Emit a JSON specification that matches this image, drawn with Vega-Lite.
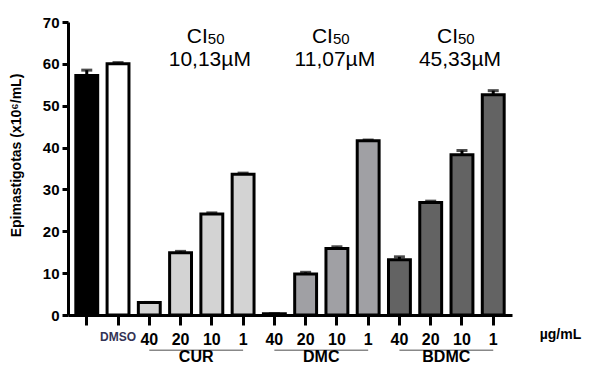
{
  "$schema": "https://vega.github.io/schema/vega-lite/v6.json",
  "width": 444,
  "height": 293,
  "autosize": {"type": "none"},
  "padding": {"left": 68, "top": 22, "right": 82, "bottom": 50},
  "background": "white",
  "config": {"font": "Liberation Sans", "view": {"stroke": null}, "axis": {"grid": false}},
  "datasets": {
    "bars": [
      {"id": "CTRL", "group": "ctrl", "value": 57.2, "hi": 58.5},
      {"id": "DMSO", "group": "DMSO", "value": 60.0, "hi": 60.3},
      {"id": "CUR40", "group": "CUR", "value": 3.0, "hi": 3.0},
      {"id": "CUR20", "group": "CUR", "value": 14.9, "hi": 15.2},
      {"id": "CUR10", "group": "CUR", "value": 24.1, "hi": 24.4},
      {"id": "CUR1", "group": "CUR", "value": 33.6, "hi": 33.9},
      {"id": "DMC40", "group": "DMC", "value": 0.3, "hi": 0.3},
      {"id": "DMC20", "group": "DMC", "value": 9.8, "hi": 10.2},
      {"id": "DMC10", "group": "DMC", "value": 15.9, "hi": 16.3},
      {"id": "DMC1", "group": "DMC", "value": 41.6, "hi": 41.8},
      {"id": "BDMC40", "group": "BDMC", "value": 13.2, "hi": 13.9},
      {"id": "BDMC20", "group": "BDMC", "value": 26.9, "hi": 27.2},
      {"id": "BDMC10", "group": "BDMC", "value": 38.3, "hi": 39.3},
      {"id": "BDMC1", "group": "BDMC", "value": 52.6, "hi": 53.6}
    ],
    "groups": [
      {"id": "CUR20", "start": "CUR40", "end": "CUR1", "name": "CUR"},
      {"id": "DMC20", "start": "DMC40", "end": "DMC1", "name": "DMC"},
      {"id": "BDMC20", "start": "BDMC40", "end": "BDMC1", "name": "BDMC"}
    ],
    "ic": [
      {"id": "CUR10", "ci": "CI", "sub": "50", "val": "10,13µM"},
      {"id": "DMC10", "ci": "CI", "sub": "50", "val": "11,07µM"},
      {"id": "BDMC10", "ci": "CI", "sub": "50", "val": "45,33µM"}
    ]
  },
  "encoding": {
    "x": {
      "field": "id",
      "type": "nominal",
      "scale": {
        "domain": ["CTRL", "DMSO", "CUR40", "CUR20", "CUR10", "CUR1", "DMC40", "DMC20", "DMC10", "DMC1", "BDMC40", "BDMC20", "BDMC10", "BDMC1"],
        "paddingInner": 0.3,
        "paddingOuter": 0.25
      },
      "axis": {
        "labelAngle": 0,
        "labelExpr": "datum.value == 'CTRL' ? '' : datum.value == 'DMSO' ? 'DMSO' : replace(datum.value, regexp('^[A-Z]+'), '')",
        "labelFontWeight": "bold",
        "labelFontSize": {"condition": {"test": "datum.value == 'DMSO'", "value": 12}, "value": 16},
        "labelColor": {"condition": {"test": "datum.value == 'DMSO'", "value": "#333355"}, "value": "black"},
        "labelPadding": 6,
        "tickSize": 10,
        "tickWidth": 3,
        "tickColor": "black",
        "domainWidth": 3,
        "domainColor": "black",
        "title": "µg/mL",
        "titleFontSize": 14,
        "titleFontWeight": "bold",
        "titleX": 492,
        "titleY": 19,
        "titleAlign": "center",
        "titleBaseline": "middle"
      }
    }
  },
  "layer": [
    {
      "data": {"name": "bars"},
      "mark": {"type": "bar", "stroke": "black", "strokeWidth": 3},
      "encoding": {
        "y": {
          "field": "value",
          "type": "quantitative",
          "scale": {"domain": [0, 70], "nice": false},
          "axis": {
            "values": [0, 10, 20, 30, 40, 50, 60, 70],
            "labelFontSize": 15,
            "labelFontWeight": "bold",
            "labelColor": "black",
            "labelPadding": 3,
            "tickSize": 6,
            "tickWidth": 3,
            "tickColor": "black",
            "domainWidth": 3,
            "domainColor": "black",
            "title": "Epimastigotas (x10⁶/mL)",
            "titleFontSize": 14,
            "titleFontWeight": "bold",
            "titleX": -52,
            "titleY": 133,
            "titleAlign": "center",
            "titleBaseline": "middle",
            "titleAngle": -90
          }
        },
        "color": {
          "field": "group",
          "type": "nominal",
          "scale": {"domain": ["ctrl", "DMSO", "CUR", "DMC", "BDMC"], "range": ["#000000", "#ffffff", "#d3d3d3", "#a0a0a4", "#636363"]},
          "legend": null
        }
      }
    },
    {
      "data": {"name": "bars"},
      "mark": {"type": "rule", "color": "black", "strokeWidth": 3},
      "encoding": {
        "y": {"field": "value", "type": "quantitative", "scale": {"domain": [0, 70], "nice": false}},
        "y2": {"field": "hi"}
      }
    },
    {
      "data": {"name": "bars"},
      "mark": {"type": "tick", "color": "black", "thickness": 3, "size": 11, "orient": "horizontal"},
      "encoding": {
        "y": {"field": "hi", "type": "quantitative", "scale": {"domain": [0, 70], "nice": false}}
      }
    },
    {
      "data": {"name": "groups"},
      "mark": {"type": "rule", "color": "#888888", "strokeWidth": 1.5},
      "encoding": {
        "x": {"field": "start", "type": "nominal"},
        "x2": {"field": "end"},
        "y": {"datum": -8.4, "type": "quantitative", "scale": {"domain": [0, 70], "nice": false}}
      }
    },
    {
      "data": {"name": "groups"},
      "mark": {"type": "text", "fontSize": 16, "fontWeight": "bold", "baseline": "alphabetic", "align": "center", "dx": 15.6, "color": "black"},
      "encoding": {
        "text": {"field": "name"},
        "y": {"datum": -11.3, "type": "quantitative", "scale": {"domain": [0, 70], "nice": false}}
      }
    },
    {
      "data": {"name": "ic"},
      "mark": {"type": "text", "fontSize": 21, "baseline": "alphabetic", "align": "right", "dx": -4, "color": "black"},
      "encoding": {
        "text": {"field": "ci"},
        "y": {"datum": 65.0, "type": "quantitative", "scale": {"domain": [0, 70], "nice": false}}
      }
    },
    {
      "data": {"name": "ic"},
      "mark": {"type": "text", "fontSize": 15, "baseline": "alphabetic", "align": "left", "dx": -4, "dy": 1, "color": "black"},
      "encoding": {
        "text": {"field": "sub"},
        "y": {"datum": 65.0, "type": "quantitative", "scale": {"domain": [0, 70], "nice": false}}
      }
    },
    {
      "data": {"name": "ic"},
      "mark": {"type": "text", "fontSize": 21, "baseline": "alphabetic", "align": "center", "dx": -2, "color": "black"},
      "encoding": {
        "text": {"field": "val"},
        "y": {"datum": 59.5, "type": "quantitative", "scale": {"domain": [0, 70], "nice": false}}
      }
    }
  ]
}
